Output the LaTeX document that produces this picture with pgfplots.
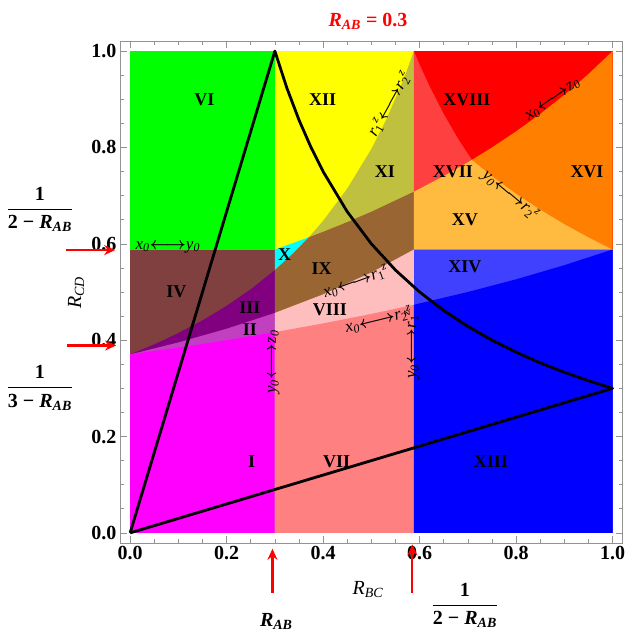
\documentclass[border=0pt]{standalone}
\usepackage{pgfplots}
\pgfplotsset{compat=1.18}
\usepackage{fontspec}
\setmainfont{Liberation Serif}
\usetikzlibrary{arrows.meta}

\definecolor{cI}{RGB}{255,0,255}
\definecolor{cII}{RGB}{192,64,192}
\definecolor{cIII}{RGB}{128,0,128}
\definecolor{cIV}{RGB}{128,64,64}
\definecolor{cVI}{RGB}{0,255,0}
\definecolor{cVII}{RGB}{255,128,128}
\definecolor{cVIII}{RGB}{255,190,190}
\definecolor{cIX}{RGB}{153,102,51}
\definecolor{cX}{RGB}{0,255,255}
\definecolor{cXI}{RGB}{191,191,64}
\definecolor{cXII}{RGB}{255,255,0}
\definecolor{cXIII}{RGB}{0,0,255}
\definecolor{cXIV}{RGB}{64,64,255}
\definecolor{cXV}{RGB}{255,187,64}
\definecolor{cXVI}{RGB}{255,128,0}
\definecolor{cXVII}{RGB}{255,64,64}
\definecolor{cXVIII}{RGB}{255,0,0}

\newcommand{\xs}[2]{\textit{#1}\textsubscript{\textit{#2}}}
\newcommand{\rz}[1]{\textit{r}\textsubscript{#1}\kern-0.5pt\textsuperscript{\textit{z}}}
\newcommand{\lra}{\mbox{\boldmath$\longleftrightarrow$}}

\begin{document}
\begin{tikzpicture}
\begin{axis}[
  scale only axis, width=502.7pt, height=502pt,
  xmin=-0.021, xmax=1.021, ymin=-0.021, ymax=1.021,
  clip=false,
  axis line style={draw=gray!85, line width=0.8pt},
  xtick={0,0.2,0.4,0.6,0.8,1}, ytick={0,0.2,0.4,0.6,0.8,1},
  minor tick num=3,
  tick style={draw=gray!85, line width=0.6pt},
  major tick length=7pt, minor tick length=4pt,
  tick align=inside,
  xtick pos=both, ytick pos=both,
  xticklabel pos=lower, yticklabel pos=left,
  ticklabel style={font=\bfseries\fontsize{20}{20}\selectfont, text=black},
  /pgf/number format/assume math mode=true,
  /pgf/number format/fixed, /pgf/number format/fixed zerofill,
  /pgf/number format/precision=1,
]
% ---------- left column ----------
\addplot[fill=cIV, draw=none, forget plot] coordinates {(0,0) (0.3,0) (0.3,0.5882) (0,0.5882)} -- cycle;
\addplot[fill=cIII, draw=none, forget plot] coordinates {(0,0) (0,0.3704) (0.05,0.3913) (0.1,0.4148) (0.15,0.4412) (0.2,0.4713) (0.25,0.5057) (0.3,0.5456) (0.3,0)} -- cycle;
\addplot[fill=cII, draw=none, forget plot] coordinates {(0,0) (0,0.3704) (0.1,0.3953) (0.2,0.4237) (0.3,0.4566) (0.3,0)} -- cycle;
\addplot[fill=cI, draw=none, forget plot] coordinates {(0,0) (0,0.3704) (0.1,0.3846) (0.2,0.4) (0.3,0.4167) (0.3,0)} -- cycle;
\addplot[fill=cVI, draw=none, forget plot] coordinates {(0,0.5882) (0.3,0.5882) (0.3,1) (0,1)} -- cycle;
% ---------- middle column ----------
\addplot[fill=cXII, draw=none, forget plot] coordinates {(0.3,0) (0.5882,0) (0.5882,1) (0.3,1)} -- cycle;
\addplot[fill=cX, draw=none, forget plot] coordinates {(0.3,0.5882) (0.34,0.6024) (0.3704,0.6137) (0.34,0.5823) (0.3,0.5456)} -- cycle;
\addplot[fill=cXI, draw=none, forget plot] coordinates {(0.3704,0.6137) (0.4,0.6477) (0.45,0.7145) (0.5,0.7968) (0.53,0.8559) (0.56,0.9246) (0.575,0.9632) (0.5882,1) (0.5882,0.7083) (0.5,0.6667) (0.45,0.6452) (0.4,0.625)} -- cycle;
\addplot[fill=cIX, draw=none, forget plot] coordinates {(0.3,0) (0.3,0.5456) (0.34,0.5823) (0.3704,0.6137) (0.4,0.625) (0.45,0.6452) (0.5,0.6667) (0.5882,0.7083) (0.5882,0)} -- cycle;
\addplot[fill=cVIII, draw=none, forget plot] coordinates {(0.3,0) (0.3,0.4566) (0.4,0.4950) (0.5,0.5405) (0.5882,0.5882) (0.5882,0)} -- cycle;
\addplot[fill=cVII, draw=none, forget plot] coordinates {(0.3,0) (0.3,0.4167) (0.4,0.4348) (0.5,0.4545) (0.5882,0.4735) (0.5882,0)} -- cycle;
% ---------- right column ----------
\addplot[fill=cXIV, draw=none, forget plot] coordinates {(0.5882,0) (1,0) (1,0.5882) (0.5882,0.5882)} -- cycle;
\addplot[fill=cXIII, draw=none, forget plot] coordinates {(0.5882,0) (0.5882,0.4735) (0.7,0.5) (0.8,0.5263) (0.9,0.5556) (1,0.5882) (1,0)} -- cycle;
\addplot[fill=cXVIII, draw=none, forget plot] coordinates {(0.5882,0.5882) (1,0.5882) (1,1) (0.5882,1)} -- cycle;
\addplot[fill=cXVII, draw=none, forget plot] coordinates {(0.5882,1) (0.6,0.9721) (0.62,0.9283) (0.65,0.8694) (0.68,0.8176) (0.7083,0.7742) (0.65,0.7407) (0.5882,0.7083)} -- cycle;
\addplot[fill=cXVI, draw=none, forget plot] coordinates {(0.7083,0.7742) (0.75,0.8) (0.8,0.8333) (0.85,0.8696) (0.9,0.9091) (0.95,0.9524) (1,1) (1,0.5882) (0.95,0.6135) (0.9,0.6410) (0.85,0.6711) (0.8,0.7042) (0.75,0.7407)} -- cycle;
\addplot[fill=cXV, draw=none, forget plot] coordinates {(0.5882,0.5882) (0.5882,0.7083) (0.65,0.7407) (0.7083,0.7742) (0.75,0.7407) (0.8,0.7042) (0.85,0.6711) (0.9,0.6410) (0.95,0.6135) (1,0.5882)} -- cycle;
% ---------- black boundary ----------
\addplot[black, line width=2.8pt, line join=round] coordinates {(0,0) (0.3,1) (0.325,0.9231) (0.35,0.8571) (0.375,0.8) (0.4,0.75) (0.45,0.6667) (0.5,0.6) (0.55,0.5455) (0.6,0.5) (0.65,0.4615) (0.7,0.4286) (0.75,0.4) (0.8,0.375) (0.85,0.3529) (0.9,0.3333) (0.95,0.3158) (1,0.3) (0,0)};

% ---------- region labels ----------
\begin{scope}[every node/.style={font=\bfseries\fontsize{18}{18}\selectfont, inner sep=0pt}]
\node at (axis cs:0.154,0.900) {VI};
\node at (axis cs:0.399,0.900) {XII};
\node at (axis cs:0.698,0.900) {XVIII};
\node at (axis cs:0.528,0.750) {XI};
\node at (axis cs:0.669,0.750) {XVII};
\node at (axis cs:0.947,0.750) {XVI};
\node at (axis cs:0.694,0.651) {XV};
\node at (axis cs:0.320,0.578) {X};
\node at (axis cs:0.397,0.549) {IX};
\node at (axis cs:0.694,0.553) {XIV};
\node at (axis cs:0.096,0.501) {IV};
\node at (axis cs:0.248,0.468) {III};
\node at (axis cs:0.414,0.464) {VIII};
\node at (axis cs:0.248,0.422) {II};
\node at (axis cs:0.252,0.148) {I};
\node at (axis cs:0.428,0.148) {VII};
\node at (axis cs:0.748,0.148) {XIII};
\end{scope}

% ---------- arrow annotations ----------
\begin{scope}[every node/.style={font=\fontsize{17}{17}\selectfont, inner sep=0pt}]
\node at (axis cs:0.078,0.5935) {\xs{x}{0}\lra\xs{y}{0}};
\node[rotate=20] at (axis cs:0.468,0.521) {\xs{x}{0}\lra\rz{1}};
\node[rotate=14] at (axis cs:0.515,0.442) {\xs{x}{0}\lra\rz{2}};
\node[rotate=61] at (axis cs:0.538,0.890) {\rz{1}\lra\rz{2}};
\node[rotate=36] at (axis cs:0.877,0.898) {\xs{x}{0}\lra\xs{z}{0}};
\node[rotate=-40] at (axis cs:0.788,0.701) {\xs{y}{0}\lra\rz{2}};
\node[rotate=90] at (axis cs:0.298,0.355) {\xs{y}{0}\lra\xs{z}{0}};
\node[rotate=90] at (axis cs:0.584,0.391) {\xs{y}{0}\lra\rz{1}};
\end{scope}

% ---------- outer annotations ----------
\node[red, font=\bfseries\fontsize{20}{20}\selectfont] at (axis cs:0.493,1.062) {\textit{R}\textsubscript{\textit{AB}} = 0.3};
\node[rotate=90, font=\fontsize{20}{20}\selectfont] at (axis cs:-0.112,0.499) {\textit{R}\textsubscript{\textit{CD}}};
\node[font=\fontsize{20}{20}\selectfont] at (axis cs:0.493,-0.118) {\textit{R}\textsubscript{\textit{BC}}};
\node[font=\bfseries\fontsize{20}{20}\selectfont] at (axis cs:0.303,-0.184) {\textit{R}\textsubscript{\textit{AB}}};
\node[font=\bfseries\fontsize{20}{22}\selectfont] at (axis cs:0.694,-0.150) {$\displaystyle\frac{\mbox{\bfseries 1}}{\mbox{\bfseries 2 − \textit{R}\textsubscript{\textit{AB}}}}$};
\node[font=\bfseries\fontsize{20}{22}\selectfont] at (axis cs:-0.187,0.672) {$\displaystyle\frac{\mbox{\bfseries 1}}{\mbox{\bfseries 2 − \textit{R}\textsubscript{\textit{AB}}}}$};
\node[font=\bfseries\fontsize{20}{22}\selectfont] at (axis cs:-0.187,0.301) {$\displaystyle\frac{\mbox{\bfseries 1}}{\mbox{\bfseries 3 − \textit{R}\textsubscript{\textit{AB}}}}$};
\draw[red, line width=2.2pt, -{Stealth[length=11pt,width=10pt]}] (axis cs:-0.133,0.587) -- (axis cs:-0.031,0.587);
\draw[red, line width=2.2pt, -{Stealth[length=11pt,width=10pt]}] (axis cs:-0.131,0.389) -- (axis cs:-0.029,0.389);
\draw[red, line width=2.2pt, -{Stealth[length=11pt,width=10pt]}] (axis cs:0.295,-0.125) -- (axis cs:0.295,-0.033);
\draw[red, line width=2.2pt, -{Stealth[length=11pt,width=10pt]}] (axis cs:0.585,-0.125) -- (axis cs:0.585,-0.024);
\end{axis}
\pgfresetboundingbox
\path ([shift={(-120pt,-91pt)}]current axis.south west) rectangle ([shift={(3pt,41pt)}]current axis.north east);
\end{tikzpicture}
\end{document}
